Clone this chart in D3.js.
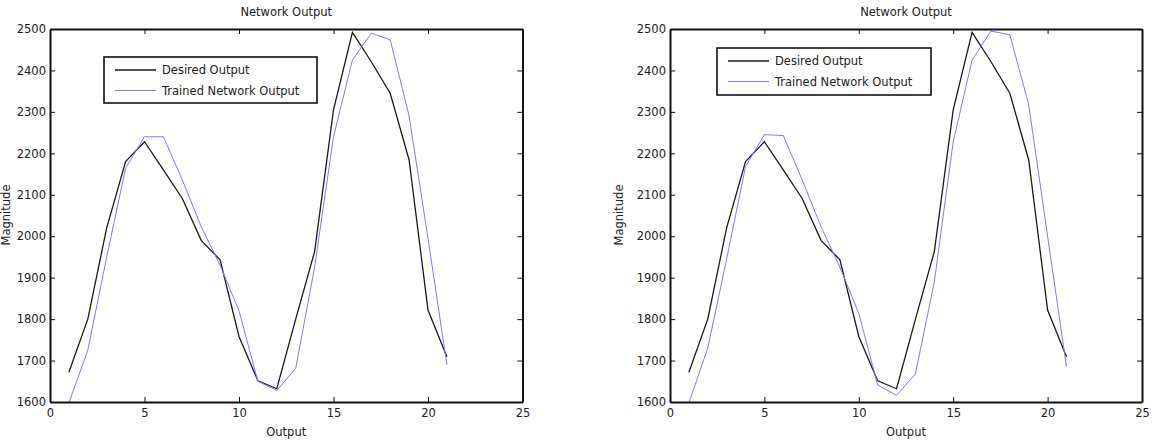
<!DOCTYPE html>
<html><head><meta charset="utf-8">
<script src="https://cdn.jsdelivr.net/npm/d3@7"></script>
<style>
body{margin:0;background:#fff;}
svg{display:block;font-family:"DejaVu Sans",sans-serif;}
</style></head>
<body><svg id="chart" width="1152" height="443"></svg>
<script>
const samples = [1,2,3,4,5,6,7,8,9,10,11,12,13,14,15,16,17,18,19,20,21];
const desiredOutput = [1672,1800,2020,2180,2228,2160,2091,1990,1943,1758,1651,1632,1800,1963,2305,2492,2421,2345,2184,1822,1709];
const trainedLeft   = [1598,1725,1950,2164,2240,2240,2136,2023,1930,1820,1650,1628,1681,1925,2240,2425,2490,2474,2290,1995,1690];
const trainedRight  = [1598,1730,1945,2168,2245,2243,2136,2023,1925,1814,1641,1616,1668,1890,2228,2425,2495,2486,2317,2000,1685];
const xTicks = [0,5,10,15,20,25];
const yTicks = [1600,1700,1800,1900,2000,2100,2200,2300,2400,2500];
const titleText = "Network Output";
const xLabelText = "Output";
const yLabelText = "Magnitude";
const legendLabels = ["Desired Output","Trained Network Output"];
const colors = ["#1a1a1a","#7b7bff"];

const svg = d3.select("#chart");
const FONT = "'DejaVu Sans',sans-serif";
const fs = "11.5px";

function drawPlot(cfg){
  const g = svg.append("g");
  const x = d3.scaleLinear().domain([0,25]).range([cfg.x0,cfg.x1]);
  const y = d3.scaleLinear().domain([1600,2500]).range([402,29]);

  const line = d3.line().x((d,i)=>x(samples[i])).y(d=>y(d));
  g.append("path").datum(desiredOutput).attr("d",line)
    .attr("fill","none").attr("stroke",colors[0]).attr("stroke-width",1.3);
  g.append("path").datum(cfg.trained).attr("d",line)
    .attr("fill","none").attr("stroke",colors[1]).attr("stroke-width",1);

  const bottom = d3.axisBottom(x).tickValues(xTicks).tickSizeInner(-5).tickSizeOuter(0).tickPadding(7).tickFormat(d3.format("d"));
  const top = d3.axisTop(x).tickValues(xTicks).tickSizeInner(-5).tickSizeOuter(0).tickFormat("");
  const left = d3.axisLeft(y).tickValues(yTicks).tickSizeInner(-5).tickSizeOuter(0).tickPadding(4).tickFormat(d3.format("d"));
  const right = d3.axisRight(y).tickValues(yTicks).tickSizeInner(-5).tickSizeOuter(0).tickFormat("");
  const axes = [
    g.append("g").attr("transform",`translate(0,402)`).call(bottom),
    g.append("g").attr("transform",`translate(0,29)`).call(top),
    g.append("g").attr("transform",`translate(${cfg.x0},0)`).call(left),
    g.append("g").attr("transform",`translate(${cfg.x1},0)`).call(right)
  ];
  axes.forEach(a=>{
    a.select(".domain").attr("stroke","#111").attr("stroke-width",2);
    a.selectAll(".tick line").attr("stroke","#111").attr("stroke-width",1);
    a.selectAll("text").attr("font-size",fs).attr("fill","#222").attr("font-family",FONT);
  });

  g.append("text").attr("x",(cfg.x0+cfg.x1)/2).attr("y",16).attr("text-anchor","middle")
    .attr("font-size",fs).attr("fill","#222").text(titleText);
  g.append("text").attr("x",(cfg.x0+cfg.x1)/2).attr("y",436).attr("text-anchor","middle")
    .attr("font-size",fs).attr("fill","#222").text(xLabelText);
  g.append("text").attr("transform",`translate(${cfg.ylabX},${cfg.ylabY}) rotate(-90)`)
    .attr("text-anchor","middle").attr("font-size",fs).attr("fill","#222").text(yLabelText);

  const L = cfg.legend;
  g.append("rect").attr("x",L.x).attr("y",L.y).attr("width",L.w).attr("height",L.h)
    .attr("fill","#fff").attr("stroke","#111").attr("stroke-width",1.6);
  legendLabels.forEach((lab,i)=>{
    const yy = L.y + 13 + i*20.5;
    g.append("line").attr("x1",L.x+11).attr("x2",L.x+52).attr("y1",yy).attr("y2",yy)
      .attr("stroke",colors[i]).attr("stroke-width",i===0?1.3:1);
    g.append("text").attr("x",L.x+58).attr("y",yy+4).attr("font-size",fs).attr("fill","#222").text(lab);
  });
}

drawPlot({x0:50, x1:522.5, trained:trainedLeft, ylabX:10, ylabY:215,
  legend:{x:104,y:57,w:213,h:46}});
drawPlot({x0:670, x1:1142, trained:trainedRight, ylabX:623, ylabY:215,
  legend:{x:717,y:48,w:214,h:47}});
</script>
</body></html>
